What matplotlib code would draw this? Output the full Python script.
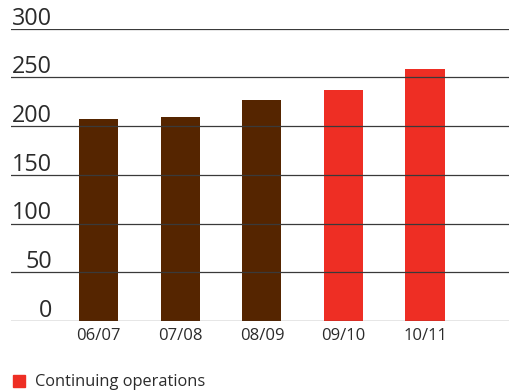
import matplotlib.pyplot as plt
from matplotlib.patches import Rectangle

plt.rcParams['font.family'] = ['Open Sans', 'DejaVu Sans']

brown_color = '#552500'
red_color = '#EE2E24'
text_color = '#2b2b2b'

years = ['06/07', '07/08', '08/09', '09/10', '10/11']
values = [207, 209, 227, 237, 259]
continuing = [False, False, False, True, True]
y_ticks = [0, 50, 100, 150, 200, 250, 300]
legend_label = 'Continuing operations'

fig = plt.figure(figsize=(5.09, 3.92), dpi=100)
ax = fig.add_axes([11 / 509, 1 - 321 / 392, 1 - 11 / 509, (321 - 28.7) / 392])

colors = [red_color if c else brown_color for c in continuing]
xs = list(range(len(years)))
ax.bar(xs, values, width=0.48, color=colors, zorder=1)

# gridlines drawn over the bars, labels sit above each line
for t in y_ticks:
    ax.axhline(t, color='#3a3a3a', lw=0.9, zorder=2)
    ax.annotate(str(t), xy=(0, t), xycoords=ax.get_yaxis_transform(),
                xytext=(29.5, 3), textcoords='offset points',
                ha='right', va='baseline', fontsize=16.8, color=text_color,
                annotation_clip=False)

ax.set_xlim(-1.077, 5.03)
ax.set_ylim(0, 300)
ax.set_xticks(xs)
ax.set_xticklabels(years, fontsize=12, color=text_color)
ax.tick_params(axis='x', length=0, pad=5)
ax.set_yticks([])
for s in ax.spines.values():
    s.set_visible(False)

# legend
fig.patches.append(Rectangle((13 / 509, 1 - 387 / 392), 12 / 509, 12 / 392,
                             transform=fig.transFigure, color=red_color))
fig.text(35 / 509, 1 - 381.5 / 392, legend_label, fontsize=11.8,
         color=text_color, va='center', ha='left')

fig.savefig('out.png', dpi=100)
